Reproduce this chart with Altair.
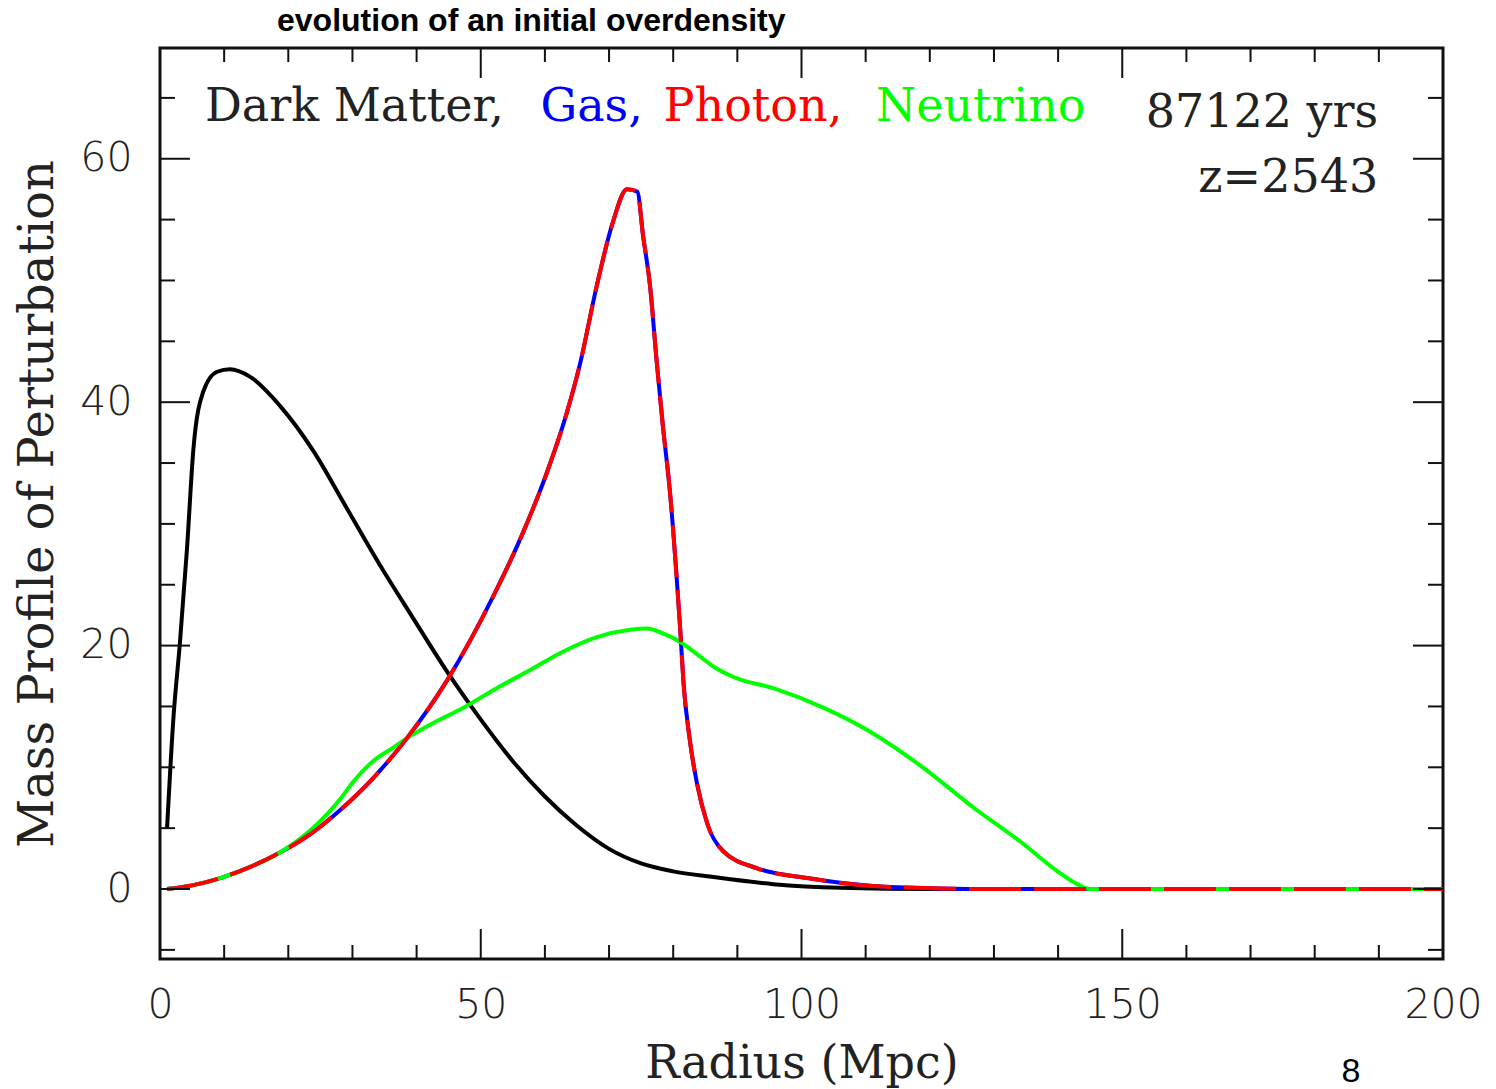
import altair as alt
import pandas as pd

# ---------------- data ----------------
R_DM = [1.1, 2.1, 3.1, 4.2, 5.2, 6.7, 8.9, 10.9, 14.0, 18.7, 23.9, 29.1, 34.3, 39.4,
        44.7, 49.9, 55.0, 60.0, 65.0, 70.0, 75.0, 80.0, 86.0, 95.6, 106.0, 120.0, 200.0]
V_DM = [5.0, 14.1, 20.2, 27.9, 36.1, 40.8, 42.5, 42.7, 42.1, 39.7, 36.0, 31.3, 26.6, 22.3,
        17.9, 14.0, 10.5, 7.6, 5.2, 3.3, 2.1, 1.45, 1.0, 0.4, 0.1, 0.0, 0.0]

R_GAS = [1.1, 5.0, 9.4, 14.0, 18.7, 23.4, 28.1, 33.2, 38.5, 44.7, 51.9, 56.6, 60.3, 63.4,
         65.5, 68.1, 70.6, 72.8, 74.4, 75.3, 76.4, 77.4, 78.4, 79.5, 80.5, 81.1, 81.6,
         82.6, 83.7, 85.3, 87.8, 93.1, 100.9, 111.1, 121.6, 130.0, 200.0]
V_GAS = [0.0, 0.3, 0.9, 1.8, 3.0, 4.5, 6.5, 9.1, 12.4, 17.1, 24.0, 29.3, 34.2, 39.1,
         43.2, 49.6, 54.8, 57.5, 57.3, 53.7, 49.5, 43.5, 38.0, 32.6, 25.9, 21.3, 17.0,
         12.2, 8.7, 5.4, 3.1, 1.7, 0.9, 0.25, 0.05, 0.0, 0.0]

R_PHOTON = list(R_GAS)
V_PHOTON = list(V_GAS)

R_NU = [1.1, 5.0, 9.4, 14.0, 18.7, 23.4, 28.1, 30.1, 33.2, 36.3, 38.5, 42.1, 47.3, 52.5,
        57.7, 62.8, 68.1, 73.3, 75.9, 78.4, 81.1, 83.7, 86.5, 89.5, 95.6, 103.4, 111.1,
        118.9, 126.8, 134.6, 139.8, 143.0, 145.0, 200.0]
V_NU = [0.0, 0.3, 0.9, 1.8, 3.0, 4.8, 7.4, 8.8, 10.5, 11.6, 12.4, 13.5, 14.9, 16.5,
        18.0, 19.5, 20.7, 21.3, 21.4, 21.0, 20.3, 19.3, 18.2, 17.4, 16.5, 14.9, 12.8,
        10.0, 6.7, 3.7, 1.5, 0.4, 0.0, 0.0]

X_LABELS = [0, 50, 100, 150, 200]
Y_LABELS = [0, 20, 40, 60]
X_MAJOR_TICKS = [50, 100, 150]
X_MINOR_TICKS = [10, 20, 30, 40, 60, 70, 80, 90, 110, 120, 130, 140, 160, 170, 180, 190]
Y_MAJOR_TICKS = [0, 20, 40, 60]
Y_MINOR_TICKS = [-5, 5, 10, 15, 25, 30, 35, 45, 50, 55, 65]

LEGEND_WORDS = ["Dark Matter,", "Gas,", "Photon,", "Neutrino"]
LEGEND_X = [7.0, 59.3, 78.5, 111.6]
LEGEND_Y = [63.1, 63.1, 63.1, 63.1]
LEGEND_COLORS = ["#222222", "#0000ff", "#ff0000", "#00ff00"]

INFO_TEXT = ["87122 yrs", "z=2543"]
INFO_X = [189.9, 189.9]
INFO_Y = [62.6, 57.3]

TITLE = "evolution of an initial overdensity"
PAGE_NUMBER = "8"

# ---------------- layout ----------------
W, H = 1283, 911
X_DOMAIN = [0, 200]
Y_DOMAIN = [-5.75, 69.1]
SERIF = "DejaVu Serif"

x_scale = alt.Scale(domain=X_DOMAIN, nice=False, zero=False)
y_scale = alt.Scale(domain=Y_DOMAIN, nice=False, zero=False)

x_axis = alt.Axis(values=X_LABELS, format="d", ticks=False, tickSize=0, domain=False, grid=False,
                  labelFont="DejaVu Sans", labelFontSize=41, labelColor="#222222",
                  labelFontWeight=200, labelPadding=26, labelFlush=False, labelOverlap=False,
                  title="Radius (Mpc)", titleFont=SERIF, titleFontSize=46,
                  titleFontWeight="normal", titleColor="#222222",
                  titleX=W / 2, titleY=118, titleAlign="center", titleBaseline="alphabetic")
y_axis = alt.Axis(values=Y_LABELS, format="d", ticks=False, tickSize=0, domain=False, grid=False,
                  labelFont="DejaVu Sans", labelFontSize=41, labelColor="#222222",
                  labelFontWeight=200, labelPadding=28, labelFlush=False, labelOverlap=False,
                  title="Mass Profile of Perturbation", titleFont=SERIF, titleFontSize=48,
                  titleFontWeight="normal", titleColor="#222222",
                  titleX=-108, titleY=H / 2, titleAngle=270, titleAlign="center",
                  titleBaseline="alphabetic")


def X(field):
    return alt.X(f"{field}:Q", scale=x_scale, axis=x_axis)


def Y(field):
    return alt.Y(f"{field}:Q", scale=y_scale, axis=y_axis)


def curve(r, v, color, dash=None):
    df = pd.DataFrame({"r": r, "v": v})
    kw = dict(color=color, strokeWidth=4, interpolate="monotone", clip=True)
    if dash is not None:
        kw["strokeDash"] = dash
    return alt.Chart(df).mark_line(**kw).encode(x=X("r"), y=Y("v"))


dm = curve(R_DM, V_DM, "#000000")
gas = curve(R_GAS, V_GAS, "#0000ff")
nu = curve(R_NU, V_NU, "#00ff00")
photon = curve(R_PHOTON, V_PHOTON, "#ff0000", dash=[52, 13])


# inward ticks on all four sides
def xticks(vals, length):
    df = pd.DataFrame({"t": vals})
    bottom = alt.Chart(df).mark_rule(color="#111111", strokeWidth=2).encode(
        x=X("t"), y=alt.value(H), y2=alt.value(H - length))
    top = alt.Chart(df).mark_rule(color="#111111", strokeWidth=2).encode(
        x=X("t"), y=alt.value(0), y2=alt.value(length))
    return bottom + top


def yticks(vals, length):
    df = pd.DataFrame({"t": vals})
    left = alt.Chart(df).mark_rule(color="#111111", strokeWidth=2).encode(
        y=Y("t"), x=alt.value(0), x2=alt.value(length))
    right = alt.Chart(df).mark_rule(color="#111111", strokeWidth=2).encode(
        y=Y("t"), x=alt.value(W), x2=alt.value(W - length))
    return left + right


ticks = xticks(X_MAJOR_TICKS, 30) + xticks(X_MINOR_TICKS, 14) + \
    yticks(Y_MAJOR_TICKS, 30) + yticks(Y_MINOR_TICKS, 15)

legend_df = pd.DataFrame({"word": LEGEND_WORDS, "x": LEGEND_X, "y": LEGEND_Y,
                          "c": LEGEND_COLORS})
legend = alt.Chart(legend_df).mark_text(font=SERIF, fontSize=46, align="left",
                                        baseline="alphabetic").encode(
    x=X("x"), y=Y("y"), text="word:N", color=alt.Color("c:N", scale=None))

info_df = pd.DataFrame({"t": INFO_TEXT, "x": INFO_X, "y": INFO_Y})
info = alt.Chart(info_df).mark_text(font=SERIF, fontSize=46, align="right",
                                    baseline="alphabetic", color="#222222").encode(
    x=X("x"), y=Y("y"), text="t:N")

title = alt.Chart(pd.DataFrame({"t": [TITLE]})).mark_text(
    font="Liberation Sans", fontSize=32, fontWeight="bold", align="left",
    baseline="middle", color="#000000").encode(
    x=alt.value(117), y=alt.value(-27), text="t:N")

page = alt.Chart(pd.DataFrame({"t": [PAGE_NUMBER]})).mark_text(
    font="Liberation Sans", fontSize=34, align="center", baseline="alphabetic",
    color="#000000").encode(
    x=alt.value(1191), y=alt.value(1034), text="t:N")

chart = alt.layer(dm, gas, nu, photon, ticks, legend, info, title, page).properties(
    width=W, height=H,
    autosize=alt.AutoSizeParams(type="none"),
    padding={"left": 160, "top": 48, "right": 53, "bottom": 130},
    background="white",
).configure_view(stroke="#111111", strokeWidth=3)

chart.save("out.html", embed_options={"renderer": "svg", "actions": False})
